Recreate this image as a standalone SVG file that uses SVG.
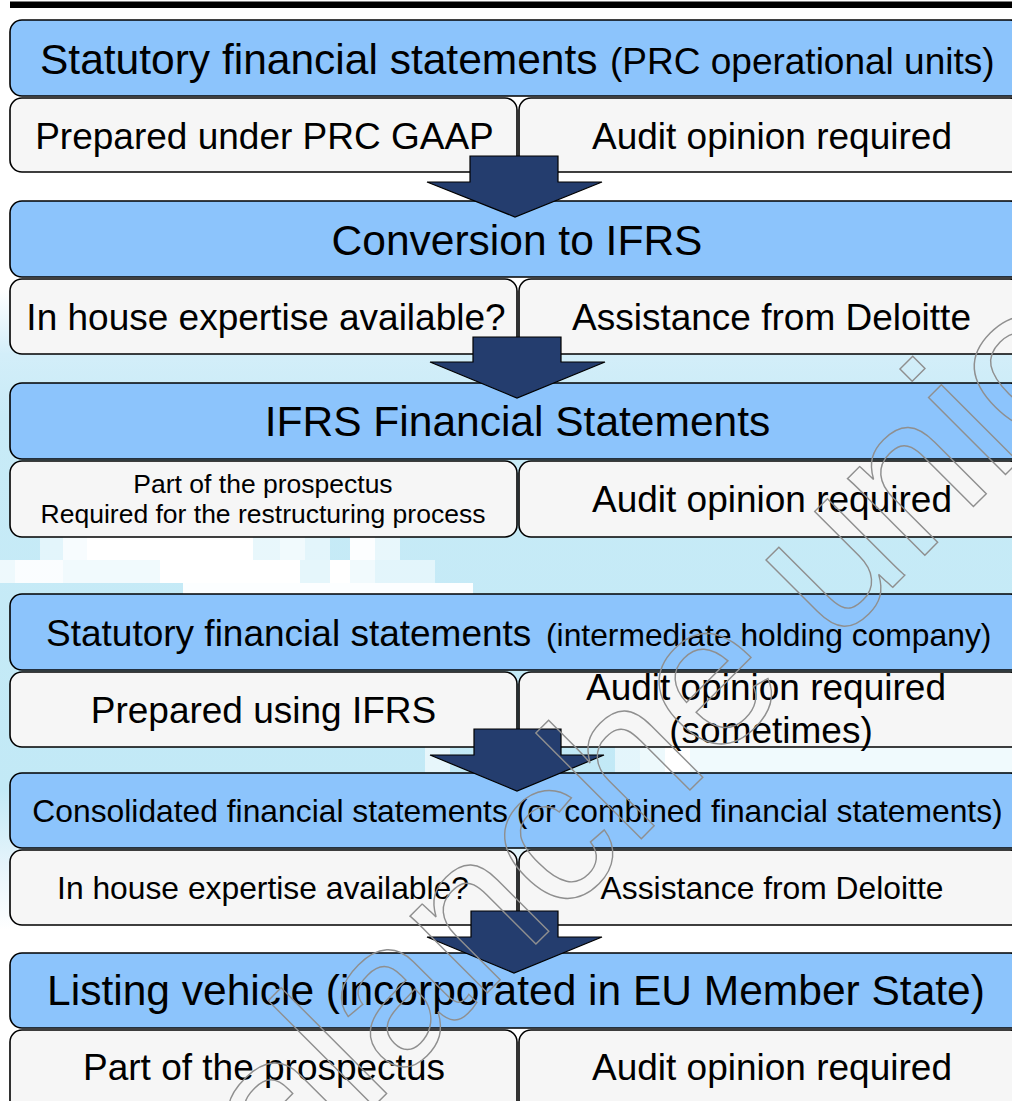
<svg xmlns="http://www.w3.org/2000/svg" width="1012" height="1101" viewBox="0 0 1012 1101">
  <defs>
    <linearGradient id="bgGrad" x1="0" y1="0" x2="0" y2="1">
      <stop offset="0" stop-color="#ffffff"/>
      <stop offset="0.1" stop-color="#d3eef9"/>
      <stop offset="0.2" stop-color="#c8ebf7"/>
      <stop offset="0.78" stop-color="#c2e9f6"/>
      <stop offset="0.9" stop-color="#e6f4fb"/>
      <stop offset="1" stop-color="#ffffff"/>
    </linearGradient>
    <style>
      .hdr { fill: #8cc4fc; stroke: #000; stroke-width: 1.6; }
      .sub { fill: #f6f6f6; stroke: #000; stroke-width: 1.6; }
      .arrow { fill: #243d6e; stroke: #000; stroke-width: 1.2; stroke-linejoin: miter; }
      text { font-family: "Liberation Sans", Arial, sans-serif; fill: #000; }
      .big { font-size: 42.5px; }
      .med { font-size: 37px; }
      .sm { font-size: 31.8px; }
      .tiny { font-size: 26.5px; }
      .c { text-anchor: middle; }
      .pix { fill: #ffffff; }
      .wm { font-family: "Liberation Sans", Arial, sans-serif; font-size: 206px; fill: none; stroke: #8f8f8f; stroke-width: 1.4; }
    </style>
  </defs>

  <!-- background -->
  <rect x="0" y="0" width="1012" height="1101" fill="#ffffff"/>
  <rect x="0" y="290" width="1012" height="640" fill="url(#bgGrad)"/>
  <g id="pixels">
    <rect class="pix" x="40" y="537" width="23" height="23" opacity="0.5"/>
    <rect class="pix" x="63" y="537" width="24" height="23" opacity="0.85"/>
    <rect class="pix" x="87" y="537" width="166" height="23" opacity="1"/>
    <rect class="pix" x="253" y="537" width="27" height="23" opacity="0.6"/>
    <rect class="pix" x="280" y="537" width="25" height="23" opacity="0.75"/>
    <rect class="pix" x="305" y="537" width="25" height="23" opacity="0.5"/>
    <rect class="pix" x="350" y="537" width="25" height="23" opacity="0.95"/>
    <rect class="pix" x="375" y="537" width="25" height="23" opacity="0.6"/>
    <rect class="pix" x="0" y="560" width="15" height="23" opacity="0.7"/>
    <rect class="pix" x="15" y="560" width="48" height="23" opacity="0.9"/>
    <rect class="pix" x="63" y="560" width="97" height="23" opacity="0.75"/>
    <rect class="pix" x="160" y="560" width="140" height="23" opacity="1"/>
    <rect class="pix" x="300" y="560" width="30" height="23" opacity="0.55"/>
    <rect class="pix" x="330" y="560" width="20" height="23" opacity="1"/>
    <rect class="pix" x="350" y="560" width="25" height="23" opacity="0.75"/>
    <rect class="pix" x="375" y="560" width="60" height="23" opacity="0.5"/>
    <rect class="pix" x="183" y="583" width="290" height="11" opacity="0.95"/>
    <rect class="pix" x="425" y="747" width="25" height="25" opacity="0.6"/>
    <rect class="pix" x="615" y="747" width="25" height="25" opacity="0.55"/>
    <rect class="pix" x="640" y="747" width="25" height="25" opacity="0.7"/>
    <rect class="pix" x="665" y="747" width="25" height="25" opacity="1"/>
    <rect class="pix" x="690" y="747" width="322" height="25" opacity="0.75"/>
    <rect class="pix" x="80" y="925" width="932" height="28" opacity="0.9"/>
  </g>

  <!-- top rule -->
  <rect x="10" y="1.5" width="1002" height="6.5" fill="#000"/>

  <!-- Row 1 -->
  <g id="hdr1">
    <rect class="hdr" x="10" y="20" width="1012" height="76" rx="12"/>
    <text class="big" x="40" y="74">Statutory financial statements</text>
    <text class="med" x="610" y="74">(PRC operational units)</text>
  </g>
  <g id="sub1a">
    <rect class="sub" x="10" y="98" width="507" height="74" rx="12"/>
    <text class="med c" x="264.5" y="149">Prepared under PRC GAAP</text>
  </g>
  <g id="sub1b">
    <rect class="sub" x="519" y="98" width="503" height="74" rx="12"/>
    <text class="med c" x="772" y="149">Audit opinion required</text>
  </g>

  <!-- Row 2 -->
  <g id="hdr2">
    <rect class="hdr" x="10" y="201" width="1012" height="76" rx="12"/>
    <text class="big c" x="517" y="255">Conversion to IFRS</text>
  </g>
  <g id="sub2a">
    <rect class="sub" x="10" y="279" width="507" height="75" rx="12"/>
    <text class="med c" x="266" y="330">In house expertise available?</text>
  </g>
  <g id="sub2b">
    <rect class="sub" x="519" y="279" width="503" height="75" rx="12"/>
    <text class="med c" x="771.5" y="330">Assistance from Deloitte</text>
  </g>

  <!-- Row 3 -->
  <g id="hdr3">
    <rect class="hdr" x="10" y="383" width="1012" height="76" rx="12"/>
    <text class="big c" x="517.5" y="436">IFRS Financial Statements</text>
  </g>
  <g id="sub3a">
    <rect class="sub" x="10" y="461" width="507" height="76" rx="12"/>
    <text class="tiny c" x="263" y="493">Part of the prospectus</text>
    <text class="tiny c" x="263" y="523">Required for the restructuring process</text>
  </g>
  <g id="sub3b">
    <rect class="sub" x="519" y="461" width="503" height="76" rx="12"/>
    <text class="med c" x="772" y="512">Audit opinion required</text>
  </g>

  <!-- Row 4 -->
  <g id="hdr4">
    <rect class="hdr" x="10" y="594" width="1012" height="76" rx="12"/>
    <text class="med" x="46" y="646">Statutory financial statements</text>
    <text class="sm" x="546" y="646">(intermediate holding company)</text>
  </g>
  <g id="sub4a">
    <rect class="sub" x="10" y="672" width="507" height="75" rx="12"/>
    <text class="med c" x="263.5" y="723">Prepared using IFRS</text>
  </g>
  <g id="sub4b">
    <rect class="sub" x="519" y="672" width="503" height="75" rx="12"/>
    <text class="med c" x="766" y="700">Audit opinion required</text>
    <text class="med c" x="771" y="743">(sometimes)</text>
  </g>

  <!-- Row 5 -->
  <g id="hdr5">
    <rect class="hdr" x="10" y="773" width="1012" height="75" rx="12"/>
    <text class="sm c" x="517.5" y="822">Consolidated financial statements (or combined financial statements)</text>
  </g>
  <g id="sub5a">
    <rect class="sub" x="10" y="850" width="507" height="75" rx="12"/>
    <text class="sm c" x="263" y="899">In house expertise available?</text>
  </g>
  <g id="sub5b">
    <rect class="sub" x="519" y="850" width="503" height="75" rx="12"/>
    <text class="sm c" x="772" y="899">Assistance from Deloitte</text>
  </g>

  <!-- Row 6 -->
  <g id="hdr6">
    <rect class="hdr" x="10" y="953" width="1012" height="75" rx="12"/>
    <text class="big c" x="516" y="1005">Listing vehicle (incorporated in EU Member State)</text>
  </g>
  <g id="sub6a">
    <rect class="sub" x="10" y="1030" width="507" height="90" rx="12"/>
    <text class="med c" x="264" y="1080">Part of the prospectus</text>
  </g>
  <g id="sub6b">
    <rect class="sub" x="519" y="1030" width="503" height="90" rx="12"/>
    <text class="med c" x="772" y="1080">Audit opinion required</text>
  </g>

  <!-- connectors: block arrows -->
  <g id="connectors">
    <polygon class="arrow" points="470,156 558,156 558,182 602,182 515,217 427,182 470,182"/>
    <polygon class="arrow" points="473,337 561,337 561,362 605,362 517,398 430,362 473,362"/>
    <polygon class="arrow" points="474,729 561,729 561,755 604,755 517,791 430,755 474,755"/>
    <polygon class="arrow" points="471,911 558,911 558,937 602,937 514,973 427,937 471,937"/>
  </g>

  <!-- watermark -->
  <g id="watermark" transform="translate(740,740) rotate(-45)">
    <text class="wm" x="-864" y="0">avalanche unio</text>
  </g>
</svg>
